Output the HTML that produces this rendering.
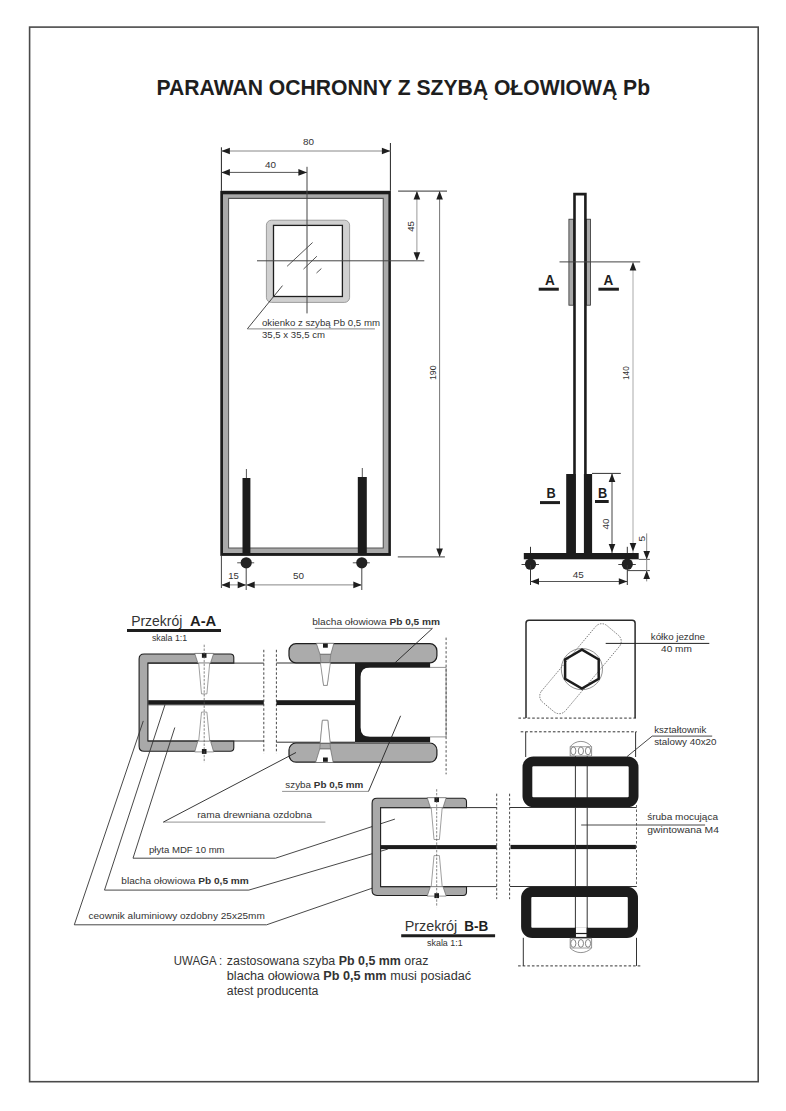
<!DOCTYPE html>
<html><head><meta charset="utf-8"><style>
html,body{margin:0;padding:0;background:#fff;}
svg{display:block;font-family:"Liberation Sans",sans-serif;}
</style></head><body>
<svg width="786" height="1111" viewBox="0 0 786 1111">
<rect width="786" height="1111" fill="#fff"/>
<rect x="29.60" y="27.10" width="728.60" height="1054.60" rx="0" fill="none" stroke="#4a4a4a" stroke-width="1.6"/>
<text x="156.50" y="95.20" font-size="22.5" font-weight="bold" fill="#1e1e1e" text-anchor="start" textLength="493.60" lengthAdjust="spacingAndGlyphs">PARAWAN OCHRONNY Z SZYBĄ OŁOWIOWĄ Pb</text>
<rect x="220.30" y="190.80" width="170.60" height="365.10" rx="0" fill="#1c1c1c" stroke="none" stroke-width="0"/>
<rect x="223.00" y="194.30" width="165.40" height="358.70" rx="0" fill="#a9a9a9" stroke="none" stroke-width="0"/>
<rect x="228.10" y="197.80" width="155.70" height="350.70" rx="0" fill="#555" stroke="none" stroke-width="0"/>
<rect x="229.10" y="199.00" width="153.60" height="348.50" rx="0" fill="#fff" stroke="none" stroke-width="0"/>
<rect x="266.40" y="220.20" width="83.20" height="82.20" rx="5" fill="#d0d0d0" stroke="#8a8a8a" stroke-width="0.8"/>
<rect x="273.50" y="225.40" width="68.90" height="71.10" rx="0" fill="#fff" stroke="#1e1e1e" stroke-width="1.3"/>
<line x1="287.10" y1="266.30" x2="312.60" y2="242.50" stroke="#444" stroke-width="0.9" stroke-linecap="butt"/>
<line x1="303.50" y1="269.10" x2="316.90" y2="256.20" stroke="#444" stroke-width="0.9" stroke-linecap="butt"/>
<line x1="316.50" y1="273.00" x2="321.40" y2="268.50" stroke="#444" stroke-width="0.9" stroke-linecap="butt"/>
<line x1="307.00" y1="166.80" x2="307.00" y2="313.40" stroke="#444" stroke-width="1" stroke-linecap="butt"/>
<line x1="257.00" y1="260.80" x2="424.30" y2="260.80" stroke="#444" stroke-width="1" stroke-linecap="butt"/>
<line x1="247.30" y1="328.90" x2="282.50" y2="285.60" stroke="#333" stroke-width="0.9" stroke-linecap="butt"/>
<line x1="247.30" y1="328.90" x2="374.90" y2="328.90" stroke="#777" stroke-width="0.9" stroke-linecap="butt"/>
<text x="262.00" y="325.70" font-size="9.4" font-weight="normal" fill="#333" text-anchor="start" textLength="118.00" lengthAdjust="spacingAndGlyphs">okienko z szybą Pb 0,5 mm</text>
<text x="262.00" y="337.60" font-size="9.4" font-weight="normal" fill="#333" text-anchor="start" textLength="63.00" lengthAdjust="spacingAndGlyphs">35,5 x 35,5 cm</text>
<line x1="221.40" y1="147.30" x2="221.40" y2="190.80" stroke="#222" stroke-width="1" stroke-linecap="butt"/>
<line x1="390.40" y1="143.00" x2="390.40" y2="190.80" stroke="#222" stroke-width="1" stroke-linecap="butt"/>
<line x1="221.40" y1="151.00" x2="390.40" y2="151.00" stroke="#888" stroke-width="1" stroke-linecap="butt"/>
<polygon points="221.40,151.00 229.90,147.70 229.90,154.30" fill="#1e1e1e" stroke="none" stroke-width="0"/>
<polygon points="390.40,151.00 381.90,147.70 381.90,154.30" fill="#1e1e1e" stroke="none" stroke-width="0"/>
<text x="302.90" y="145.40" font-size="9.6" font-weight="normal" fill="#333" text-anchor="start" textLength="11.00" lengthAdjust="spacingAndGlyphs">80</text>
<line x1="221.40" y1="172.40" x2="306.90" y2="172.40" stroke="#555" stroke-width="1" stroke-linecap="butt"/>
<polygon points="221.40,172.40 229.90,169.10 229.90,175.70" fill="#1e1e1e" stroke="none" stroke-width="0"/>
<polygon points="306.90,172.40 298.40,169.10 298.40,175.70" fill="#1e1e1e" stroke="none" stroke-width="0"/>
<text x="265.10" y="167.70" font-size="9.6" font-weight="normal" fill="#333" text-anchor="start" textLength="11.00" lengthAdjust="spacingAndGlyphs">40</text>
<line x1="398.10" y1="191.10" x2="447.00" y2="191.10" stroke="#333" stroke-width="1" stroke-linecap="butt"/>
<line x1="416.90" y1="191.10" x2="416.90" y2="260.80" stroke="#999" stroke-width="1" stroke-linecap="butt"/>
<polygon points="416.90,191.10 413.60,199.60 420.20,199.60" fill="#1e1e1e" stroke="none" stroke-width="0"/>
<polygon points="416.90,260.80 413.60,252.30 420.20,252.30" fill="#1e1e1e" stroke="none" stroke-width="0"/>
<text x="414.40" y="231.80" font-size="9.6" font-weight="normal" fill="#333" text-anchor="start" textLength="10.80" lengthAdjust="spacingAndGlyphs" transform="rotate(-90 414.40 231.80)">45</text>
<line x1="439.60" y1="191.10" x2="439.60" y2="556.90" stroke="#777" stroke-width="1" stroke-linecap="butt"/>
<polygon points="439.60,191.10 436.30,199.60 442.90,199.60" fill="#1e1e1e" stroke="none" stroke-width="0"/>
<polygon points="439.60,556.90 436.30,548.40 442.90,548.40" fill="#1e1e1e" stroke="none" stroke-width="0"/>
<line x1="397.80" y1="556.90" x2="444.90" y2="556.90" stroke="#666" stroke-width="1.2" stroke-linecap="butt"/>
<text x="435.80" y="380.10" font-size="9.6" font-weight="normal" fill="#333" text-anchor="start" textLength="14.80" lengthAdjust="spacingAndGlyphs" transform="rotate(-90 435.80 380.10)">190</text>
<line x1="246.40" y1="469.00" x2="246.40" y2="478.00" stroke="#555" stroke-width="1" stroke-linecap="butt"/>
<rect x="242.50" y="478.00" width="7.90" height="77.00" rx="0" fill="#1c1c1c" stroke="none" stroke-width="0"/>
<line x1="362.30" y1="468.00" x2="362.30" y2="477.00" stroke="#555" stroke-width="1" stroke-linecap="butt"/>
<rect x="357.80" y="477.00" width="9.00" height="78.00" rx="0" fill="#1c1c1c" stroke="none" stroke-width="0"/>
<line x1="237.20" y1="562.80" x2="254.20" y2="562.80" stroke="#555" stroke-width="1" stroke-linecap="butt"/>
<circle cx="246.20" cy="562.80" r="5.6" fill="#222" stroke="none" stroke-width="0"/>
<line x1="246.20" y1="568.00" x2="246.20" y2="590.00" stroke="#444" stroke-width="1" stroke-linecap="butt"/>
<line x1="352.80" y1="562.80" x2="369.80" y2="562.80" stroke="#555" stroke-width="1" stroke-linecap="butt"/>
<circle cx="361.80" cy="562.80" r="5.6" fill="#222" stroke="none" stroke-width="0"/>
<line x1="361.80" y1="568.00" x2="361.80" y2="590.00" stroke="#444" stroke-width="1" stroke-linecap="butt"/>
<line x1="221.40" y1="555.90" x2="221.40" y2="588.00" stroke="#444" stroke-width="1" stroke-linecap="butt"/>
<line x1="221.40" y1="584.90" x2="361.80" y2="584.90" stroke="#888" stroke-width="1" stroke-linecap="butt"/>
<polygon points="221.40,584.90 229.90,581.60 229.90,588.20" fill="#1e1e1e" stroke="none" stroke-width="0"/>
<polygon points="246.20,584.90 237.70,581.60 237.70,588.20" fill="#1e1e1e" stroke="none" stroke-width="0"/>
<polygon points="246.20,584.90 254.70,581.60 254.70,588.20" fill="#1e1e1e" stroke="none" stroke-width="0"/>
<polygon points="361.80,584.90 353.30,581.60 353.30,588.20" fill="#1e1e1e" stroke="none" stroke-width="0"/>
<text x="228.30" y="578.60" font-size="9.6" font-weight="normal" fill="#333" text-anchor="start" textLength="10.60" lengthAdjust="spacingAndGlyphs">15</text>
<text x="293.00" y="578.60" font-size="9.6" font-weight="normal" fill="#333" text-anchor="start" textLength="11.00" lengthAdjust="spacingAndGlyphs">50</text>
<rect x="568.90" y="219.20" width="4.50" height="86.00" rx="0" fill="#a9a9a9" stroke="#333" stroke-width="0.8"/>
<rect x="586.60" y="219.20" width="4.00" height="86.00" rx="0" fill="#a9a9a9" stroke="#333" stroke-width="0.8"/>
<polyline points="574.50,553.00 574.50,194.10 585.40,194.10 585.40,553.00" fill="none" stroke="#1c1c1c" stroke-width="2.6"/>
<rect x="566.20" y="474.00" width="9.50" height="79.00" rx="0" fill="#1c1c1c" stroke="none" stroke-width="0"/>
<rect x="583.90" y="474.00" width="8.20" height="79.00" rx="0" fill="#1c1c1c" stroke="none" stroke-width="0"/>
<rect x="523.80" y="553.00" width="114.90" height="6.30" rx="0" fill="#1c1c1c" stroke="none" stroke-width="0"/>
<line x1="530.50" y1="546.80" x2="530.50" y2="553.00" stroke="#333" stroke-width="1" stroke-linecap="butt"/>
<line x1="521.50" y1="564.50" x2="539.00" y2="564.50" stroke="#444" stroke-width="1" stroke-linecap="butt"/>
<circle cx="530.50" cy="564.20" r="5.6" fill="#222" stroke="none" stroke-width="0"/>
<line x1="530.50" y1="565.00" x2="530.50" y2="585.00" stroke="#333" stroke-width="1" stroke-linecap="butt"/>
<line x1="627.30" y1="546.80" x2="627.30" y2="553.00" stroke="#333" stroke-width="1" stroke-linecap="butt"/>
<line x1="618.30" y1="564.50" x2="635.80" y2="564.50" stroke="#444" stroke-width="1" stroke-linecap="butt"/>
<circle cx="627.30" cy="564.20" r="5.6" fill="#222" stroke="none" stroke-width="0"/>
<line x1="627.30" y1="565.00" x2="627.30" y2="585.00" stroke="#333" stroke-width="1" stroke-linecap="butt"/>
<line x1="559.50" y1="261.90" x2="640.20" y2="261.90" stroke="#444" stroke-width="1" stroke-linecap="butt"/>
<text x="545.00" y="284.70" font-size="15" font-weight="bold" fill="#1e1e1e" text-anchor="start" textLength="9.80" lengthAdjust="spacingAndGlyphs">A</text>
<line x1="538.70" y1="289.20" x2="558.80" y2="289.20" stroke="#1e1e1e" stroke-width="3" stroke-linecap="butt"/>
<text x="603.60" y="284.70" font-size="15" font-weight="bold" fill="#1e1e1e" text-anchor="start" textLength="9.80" lengthAdjust="spacingAndGlyphs">A</text>
<line x1="598.40" y1="289.20" x2="618.90" y2="289.20" stroke="#1e1e1e" stroke-width="3" stroke-linecap="butt"/>
<text x="546.40" y="498.20" font-size="15" font-weight="bold" fill="#1e1e1e" text-anchor="start" textLength="9.20" lengthAdjust="spacingAndGlyphs">B</text>
<line x1="540.00" y1="502.60" x2="560.00" y2="502.60" stroke="#1e1e1e" stroke-width="3" stroke-linecap="butt"/>
<text x="598.10" y="498.20" font-size="15" font-weight="bold" fill="#1e1e1e" text-anchor="start" textLength="9.20" lengthAdjust="spacingAndGlyphs">B</text>
<line x1="595.00" y1="501.50" x2="608.70" y2="501.50" stroke="#1e1e1e" stroke-width="3" stroke-linecap="butt"/>
<line x1="633.00" y1="261.90" x2="633.00" y2="553.00" stroke="#aaa" stroke-width="1" stroke-linecap="butt"/>
<polygon points="633.00,261.90 629.70,270.40 636.30,270.40" fill="#1e1e1e" stroke="none" stroke-width="0"/>
<polygon points="633.00,551.50 629.70,543.00 636.30,543.00" fill="#1e1e1e" stroke="none" stroke-width="0"/>
<text x="628.80" y="380.00" font-size="9.6" font-weight="normal" fill="#333" text-anchor="start" textLength="13.70" lengthAdjust="spacingAndGlyphs" transform="rotate(-90 628.80 380.00)">140</text>
<line x1="592.00" y1="473.40" x2="620.80" y2="473.40" stroke="#333" stroke-width="1" stroke-linecap="butt"/>
<line x1="612.00" y1="473.40" x2="612.00" y2="553.00" stroke="#444" stroke-width="1" stroke-linecap="butt"/>
<polygon points="612.00,473.40 608.70,481.90 615.30,481.90" fill="#1e1e1e" stroke="none" stroke-width="0"/>
<polygon points="612.00,552.50 608.70,544.00 615.30,544.00" fill="#1e1e1e" stroke="none" stroke-width="0"/>
<text x="608.80" y="529.50" font-size="9.6" font-weight="normal" fill="#333" text-anchor="start" textLength="11.00" lengthAdjust="spacingAndGlyphs" transform="rotate(-90 608.80 529.50)">40</text>
<line x1="638.70" y1="559.40" x2="649.90" y2="559.40" stroke="#555" stroke-width="1" stroke-linecap="butt"/>
<line x1="627.20" y1="570.60" x2="649.90" y2="570.60" stroke="#444" stroke-width="1" stroke-linecap="butt"/>
<line x1="646.70" y1="533.40" x2="646.70" y2="581.40" stroke="#888" stroke-width="1" stroke-linecap="butt"/>
<polygon points="646.70,559.40 643.40,550.90 650.00,550.90" fill="#1e1e1e" stroke="none" stroke-width="0"/>
<polygon points="646.70,570.60 643.40,579.10 650.00,579.10" fill="#1e1e1e" stroke="none" stroke-width="0"/>
<text x="645.40" y="541.50" font-size="9.6" font-weight="normal" fill="#333" text-anchor="start" textLength="5.60" lengthAdjust="spacingAndGlyphs" transform="rotate(-90 645.40 541.50)">5</text>
<line x1="530.50" y1="581.50" x2="627.30" y2="581.50" stroke="#555" stroke-width="1" stroke-linecap="butt"/>
<polygon points="530.50,581.50 539.00,578.20 539.00,584.80" fill="#1e1e1e" stroke="none" stroke-width="0"/>
<polygon points="627.30,581.50 618.80,578.20 618.80,584.80" fill="#1e1e1e" stroke="none" stroke-width="0"/>
<text x="572.70" y="577.80" font-size="9.6" font-weight="normal" fill="#333" text-anchor="start" textLength="11.00" lengthAdjust="spacingAndGlyphs">45</text>
<path d="M233.8,663.1 L147.9,663.1 L147.9,741 L233.8,741 L233.8,747.8 Q233.8,751.3 230.3,751.3 L144.1,751.3 Q139.1,751.3 139.1,746.3 L139.1,659 Q139.1,654 144.1,654 L230.3,654 Q233.8,654 233.8,657.5 Z" fill="#a9a9a9" stroke="#1e1e1e" stroke-width="1.1"/>
<line x1="147.90" y1="663.10" x2="263.80" y2="663.10" stroke="#333" stroke-width="1" stroke-linecap="butt"/>
<line x1="147.90" y1="741.00" x2="263.80" y2="741.00" stroke="#333" stroke-width="1" stroke-linecap="butt"/>
<rect x="148.20" y="700.20" width="115.60" height="4.50" rx="0" fill="#1c1c1c" stroke="none" stroke-width="0"/>
<line x1="148.20" y1="704.90" x2="263.80" y2="704.90" stroke="#444" stroke-width="0.8" stroke-linecap="butt"/>
<polygon points="194.70,653.40 213.70,653.40 210.50,663.10 197.90,663.10" fill="#fff" stroke="#666" stroke-width="0.7"/>
<polygon points="198.70,663.10 209.70,663.10 206.90,693.90 201.50,693.90" fill="#fff" stroke="#777" stroke-width="0.7"/>
<rect x="201.90" y="653.20" width="4.60" height="4.60" rx="0" fill="#1c1c1c" stroke="none" stroke-width="0"/>
<polygon points="194.70,751.90 213.70,751.90 210.50,741.00 197.90,741.00" fill="#fff" stroke="#666" stroke-width="0.7"/>
<polygon points="198.70,741.00 209.70,741.00 206.90,712.10 201.50,712.10" fill="#fff" stroke="#777" stroke-width="0.7"/>
<rect x="201.90" y="749.00" width="4.60" height="4.90" rx="0" fill="#1c1c1c" stroke="none" stroke-width="0"/>
<line x1="204.20" y1="644.70" x2="204.20" y2="762.60" stroke="#555" stroke-width="0.7" stroke-linecap="butt" stroke-dasharray="2.4,1.4"/>
<line x1="263.80" y1="649.80" x2="263.80" y2="753.40" stroke="#333" stroke-width="0.9" stroke-linecap="butt" stroke-dasharray="2.5,2"/>
<line x1="276.40" y1="649.80" x2="276.40" y2="753.40" stroke="#333" stroke-width="0.9" stroke-linecap="butt" stroke-dasharray="2.5,2"/>
<line x1="276.40" y1="663.00" x2="355.00" y2="663.00" stroke="#333" stroke-width="1" stroke-linecap="butt"/>
<line x1="276.40" y1="742.20" x2="355.00" y2="742.20" stroke="#333" stroke-width="1" stroke-linecap="butt"/>
<rect x="276.40" y="700.20" width="78.60" height="4.90" rx="0" fill="#1c1c1c" stroke="none" stroke-width="0"/>
<rect x="289.00" y="643.70" width="147.90" height="19.10" rx="7" fill="#ababab" stroke="#1e1e1e" stroke-width="1.2"/>
<rect x="289.00" y="743.00" width="147.90" height="19.10" rx="7" fill="#ababab" stroke="#1e1e1e" stroke-width="1.2"/>
<polygon points="316.30,643.30 333.90,643.30 330.80,654.30 320.00,654.30" fill="#fff" stroke="#666" stroke-width="0.7"/>
<polygon points="320.00,654.30 330.80,654.30 327.20,685.40 323.60,685.40" fill="none" stroke="#777" stroke-width="0.7"/>
<polygon points="320.40,662.80 330.40,662.80 327.20,685.40 323.60,685.40" fill="#fff" stroke="#777" stroke-width="0.7"/>
<rect x="323.00" y="643.50" width="4.80" height="4.20" rx="0" fill="#1c1c1c" stroke="none" stroke-width="0"/>
<polygon points="315.60,762.50 333.20,762.50 330.50,748.80 319.80,748.80" fill="#fff" stroke="#666" stroke-width="0.7"/>
<polygon points="319.80,748.80 330.50,748.80 327.80,720.30 322.40,720.30" fill="none" stroke="#777" stroke-width="0.7"/>
<polygon points="320.20,743.00 330.20,743.00 327.80,720.30 322.40,720.30" fill="#fff" stroke="#777" stroke-width="0.7"/>
<rect x="323.00" y="757.50" width="4.80" height="4.30" rx="0" fill="#1c1c1c" stroke="none" stroke-width="0"/>
<line x1="360.60" y1="667.40" x2="446.10" y2="667.40" stroke="#888" stroke-width="0.9" stroke-linecap="butt"/>
<line x1="360.60" y1="736.90" x2="446.10" y2="736.90" stroke="#888" stroke-width="0.9" stroke-linecap="butt"/>
<line x1="446.10" y1="667.40" x2="446.10" y2="736.90" stroke="#888" stroke-width="0.9" stroke-linecap="butt"/>
<path d="M355,662.8 L430.1,662.8 L430.1,667.4 L370,667.4 Q360.6,667.4 360.6,676.8 L360.6,727.5 Q360.6,736.9 370,736.9 L430.1,736.9 L430.1,742.2 L355,742.2 Z" fill="#1c1c1c"/>
<line x1="446.10" y1="637.60" x2="446.10" y2="774.30" stroke="#444" stroke-width="0.9" stroke-linecap="butt" stroke-dasharray="2.5,2"/>
<text x="131.20" y="626.00" font-size="15" font-weight="normal" fill="#333" text-anchor="start" textLength="51.10" lengthAdjust="spacingAndGlyphs">Przekrój</text>
<text x="190.00" y="626.00" font-size="15" font-weight="bold" fill="#1e1e1e" text-anchor="start" textLength="26.30" lengthAdjust="spacingAndGlyphs">A-A</text>
<line x1="127.00" y1="630.50" x2="221.00" y2="630.50" stroke="#1e1e1e" stroke-width="2.8" stroke-linecap="butt"/>
<text x="151.90" y="641.10" font-size="9.4" font-weight="normal" fill="#333" text-anchor="start" textLength="35.30" lengthAdjust="spacingAndGlyphs">skala 1:1</text>
<text x="312.20" y="625.40" font-size="9.4" fill="#333" xml:space="preserve" textLength="127.90" lengthAdjust="spacingAndGlyphs"><tspan font-weight="normal">blacha ołowiowa </tspan><tspan font-weight="bold">Pb 0,5 mm</tspan></text>
<line x1="314.80" y1="628.40" x2="432.40" y2="628.40" stroke="#666" stroke-width="0.9" stroke-linecap="butt"/>
<line x1="432.40" y1="628.40" x2="395.00" y2="662.80" stroke="#222" stroke-width="0.9" stroke-linecap="butt"/>
<text x="285.30" y="787.60" font-size="9.4" fill="#333" xml:space="preserve" textLength="77.90" lengthAdjust="spacingAndGlyphs"><tspan font-weight="normal">szyba </tspan><tspan font-weight="bold">Pb 0,5 mm</tspan></text>
<line x1="282.10" y1="791.40" x2="368.50" y2="791.40" stroke="#888" stroke-width="0.9" stroke-linecap="butt"/>
<line x1="368.50" y1="791.40" x2="400.60" y2="715.80" stroke="#222" stroke-width="0.9" stroke-linecap="butt"/>
<text x="197.20" y="817.70" font-size="9.4" font-weight="normal" fill="#333" text-anchor="start" textLength="114.70" lengthAdjust="spacingAndGlyphs">rama drewniana ozdobna</text>
<line x1="163.30" y1="822.10" x2="325.40" y2="822.10" stroke="#888" stroke-width="0.9" stroke-linecap="butt"/>
<line x1="163.30" y1="822.10" x2="296.00" y2="752.50" stroke="#222" stroke-width="0.9" stroke-linecap="butt"/>
<text x="149.00" y="852.50" font-size="9.4" font-weight="normal" fill="#333" text-anchor="start" textLength="75.60" lengthAdjust="spacingAndGlyphs">płyta MDF 10 mm</text>
<polyline points="174.80,727.50 133.00,858.20 275.50,858.20 394.90,819.10" fill="none" stroke="#333" stroke-width="0.9"/>
<text x="121.30" y="883.50" font-size="9.4" fill="#333" xml:space="preserve" textLength="127.50" lengthAdjust="spacingAndGlyphs"><tspan font-weight="normal">blacha ołowiowa </tspan><tspan font-weight="bold">Pb 0,5 mm</tspan></text>
<polyline points="165.00,704.70 104.50,890.10 248.80,890.10 387.80,849.10" fill="none" stroke="#333" stroke-width="0.9"/>
<text x="88.50" y="919.20" font-size="9.4" font-weight="normal" fill="#333" text-anchor="start" textLength="176.30" lengthAdjust="spacingAndGlyphs">ceownik aluminiowy ozdobny 25x25mm</text>
<polyline points="143.30,720.90 74.30,924.80 266.60,924.80 376.20,886.80" fill="none" stroke="#333" stroke-width="0.9"/>
<path d="M466.5,807.6 L380.6,807.6 L380.6,886.6 L466.5,886.6 L466.5,892.1 Q466.5,895.5 463.1,895.5 L377,895.5 Q372.1,895.5 372.1,890.6 L372.1,803.2 Q372.1,798.3 377,798.3 L463.1,798.3 Q466.5,798.3 466.5,801.7 Z" fill="#a9a9a9" stroke="#1e1e1e" stroke-width="1.1"/>
<line x1="380.60" y1="807.60" x2="496.70" y2="807.60" stroke="#333" stroke-width="1" stroke-linecap="butt"/>
<line x1="380.60" y1="886.60" x2="496.70" y2="886.60" stroke="#333" stroke-width="1" stroke-linecap="butt"/>
<rect x="380.60" y="845.10" width="116.10" height="4.00" rx="0" fill="#1c1c1c" stroke="none" stroke-width="0"/>
<polygon points="427.20,797.70 446.20,797.70 443.00,807.60 430.40,807.60" fill="#fff" stroke="#666" stroke-width="0.7"/>
<polygon points="431.20,807.60 442.20,807.60 439.40,839.50 434.00,839.50" fill="#fff" stroke="#777" stroke-width="0.7"/>
<rect x="434.40" y="797.50" width="4.60" height="4.60" rx="0" fill="#1c1c1c" stroke="none" stroke-width="0"/>
<polygon points="427.20,896.10 446.20,896.10 443.00,886.60 430.40,886.60" fill="#fff" stroke="#666" stroke-width="0.7"/>
<polygon points="431.20,886.60 442.20,886.60 439.40,855.60 434.00,855.60" fill="#fff" stroke="#777" stroke-width="0.7"/>
<rect x="434.40" y="893.20" width="4.60" height="4.90" rx="0" fill="#1c1c1c" stroke="none" stroke-width="0"/>
<line x1="436.70" y1="789.20" x2="436.70" y2="907.10" stroke="#555" stroke-width="0.7" stroke-linecap="butt" stroke-dasharray="2.4,1.4"/>
<line x1="496.70" y1="793.70" x2="496.70" y2="899.10" stroke="#333" stroke-width="0.9" stroke-linecap="butt" stroke-dasharray="2.5,2"/>
<line x1="509.60" y1="793.70" x2="509.60" y2="899.10" stroke="#333" stroke-width="0.9" stroke-linecap="butt" stroke-dasharray="2.5,2"/>
<line x1="510.00" y1="807.50" x2="636.50" y2="807.50" stroke="#333" stroke-width="1" stroke-linecap="butt"/>
<line x1="510.00" y1="886.50" x2="636.50" y2="886.50" stroke="#333" stroke-width="1" stroke-linecap="butt"/>
<rect x="510.50" y="844.90" width="125.40" height="4.20" rx="0" fill="#1c1c1c" stroke="none" stroke-width="0"/>
<line x1="636.50" y1="805.00" x2="636.50" y2="887.00" stroke="#555" stroke-width="0.9" stroke-linecap="butt" stroke-dasharray="2.5,2"/>
<line x1="575.40" y1="746.00" x2="575.40" y2="938.00" stroke="#333" stroke-width="1" stroke-linecap="butt"/>
<line x1="587.20" y1="746.00" x2="587.20" y2="938.00" stroke="#333" stroke-width="1" stroke-linecap="butt"/>
<rect x="527.40" y="761.30" width="106.20" height="40.90" rx="6" fill="none" stroke="#1c1c1c" stroke-width="9.8"/>
<rect x="526.20" y="891.90" width="106.70" height="40.90" rx="6" fill="none" stroke="#1c1c1c" stroke-width="10.2"/>
<rect x="575.90" y="927.50" width="10.80" height="9.70" rx="0" fill="#fff" stroke="none" stroke-width="0"/>
<line x1="575.40" y1="927.50" x2="575.40" y2="938.00" stroke="#222" stroke-width="1" stroke-linecap="butt"/>
<line x1="587.20" y1="927.50" x2="587.20" y2="938.00" stroke="#222" stroke-width="1" stroke-linecap="butt"/>
<line x1="575.40" y1="933.50" x2="587.20" y2="933.50" stroke="#1c1c1c" stroke-width="1.2" stroke-linecap="butt"/>
<line x1="575.40" y1="937.50" x2="587.20" y2="937.50" stroke="#1c1c1c" stroke-width="1.2" stroke-linecap="butt"/>
<line x1="520.70" y1="731.80" x2="636.80" y2="731.80" stroke="#333" stroke-width="1" stroke-linecap="butt" stroke-dasharray="2.6,2"/>
<line x1="525.70" y1="731.80" x2="525.70" y2="757.00" stroke="#333" stroke-width="1" stroke-linecap="butt"/>
<line x1="635.60" y1="731.80" x2="635.60" y2="757.00" stroke="#333" stroke-width="1" stroke-linecap="butt"/>
<line x1="518.10" y1="965.90" x2="641.20" y2="965.90" stroke="#333" stroke-width="1" stroke-linecap="butt" stroke-dasharray="2.6,2"/>
<line x1="523.30" y1="937.80" x2="523.30" y2="965.90" stroke="#333" stroke-width="1" stroke-linecap="butt"/>
<line x1="636.50" y1="937.80" x2="636.50" y2="965.90" stroke="#333" stroke-width="1" stroke-linecap="butt"/>
<path d="M570.2,756 L570.2,746.7 A13.45,13.45 0 0 1 591.6,746.7 L591.6,756 Z" fill="#fff" stroke="#777" stroke-width="0.8"/>
<line x1="570.20" y1="746.70" x2="591.60" y2="746.70" stroke="#888" stroke-width="0.8" stroke-linecap="butt"/>
<ellipse cx="573.3" cy="750.9" rx="2.6" ry="3.9" fill="#fff" stroke="#666" stroke-width="0.8"/>
<ellipse cx="580.9" cy="750.9" rx="2.6" ry="3.9" fill="#fff" stroke="#666" stroke-width="0.8"/>
<ellipse cx="588.0" cy="750.9" rx="2.6" ry="3.9" fill="#fff" stroke="#666" stroke-width="0.8"/>
<path d="M570.2,938.3 L570.2,948.0 A14.74,14.74 0 0 0 591.6,948.0 L591.6,938.3 Z" fill="#fff" stroke="#777" stroke-width="0.8"/>
<line x1="570.20" y1="948.00" x2="591.60" y2="948.00" stroke="#888" stroke-width="0.8" stroke-linecap="butt"/>
<ellipse cx="573.3" cy="943.4" rx="2.6" ry="3.9" fill="#fff" stroke="#666" stroke-width="0.8"/>
<ellipse cx="580.9" cy="943.4" rx="2.6" ry="3.9" fill="#fff" stroke="#666" stroke-width="0.8"/>
<ellipse cx="588.0" cy="943.4" rx="2.6" ry="3.9" fill="#fff" stroke="#666" stroke-width="0.8"/>
<text x="404.70" y="930.70" font-size="15" font-weight="normal" fill="#333" text-anchor="start" textLength="52.60" lengthAdjust="spacingAndGlyphs">Przekrój</text>
<text x="464.20" y="930.70" font-size="15" font-weight="bold" fill="#1e1e1e" text-anchor="start" textLength="24.00" lengthAdjust="spacingAndGlyphs">B-B</text>
<line x1="401.20" y1="935.70" x2="495.10" y2="935.70" stroke="#1e1e1e" stroke-width="3" stroke-linecap="butt"/>
<text x="427.10" y="945.80" font-size="9.6" font-weight="normal" fill="#333" text-anchor="start" textLength="35.50" lengthAdjust="spacingAndGlyphs">skala 1:1</text>
<text x="654.20" y="733.20" font-size="9.4" font-weight="normal" fill="#333" text-anchor="start" textLength="52.10" lengthAdjust="spacingAndGlyphs">kształtownik</text>
<text x="654.20" y="744.90" font-size="9.4" font-weight="normal" fill="#333" text-anchor="start" textLength="62.40" lengthAdjust="spacingAndGlyphs">stalowy 40x20</text>
<polyline points="627.00,756.60 652.20,736.10 712.20,736.10" fill="none" stroke="#333" stroke-width="0.9"/>
<text x="647.20" y="819.50" font-size="9.4" font-weight="normal" fill="#333" text-anchor="start" textLength="70.80" lengthAdjust="spacingAndGlyphs">śruba mocująca</text>
<text x="647.20" y="832.70" font-size="9.4" font-weight="normal" fill="#333" text-anchor="start" textLength="71.70" lengthAdjust="spacingAndGlyphs">gwintowana M4</text>
<line x1="581.20" y1="825.00" x2="705.10" y2="825.00" stroke="#333" stroke-width="0.9" stroke-linecap="butt"/>
<path d="M526,718.1 L526,623.2 Q526,620.2 529,620.2 L632.1,620.2 Q635.1,620.2 635.1,623.2 L635.1,718.1" fill="none" stroke="#2a2a2a" stroke-width="1.5"/>
<line x1="518.40" y1="718.10" x2="636.00" y2="718.10" stroke="#333" stroke-width="1" stroke-linecap="butt" stroke-dasharray="2.6,2"/>
<rect x="530.5" y="653.2" width="100" height="31" rx="8" fill="none" stroke="#666" stroke-width="0.8" stroke-dasharray="1.5,1.2" transform="rotate(-50 580.5 668.7)"/>
<circle cx="581.90" cy="669.10" r="20.6" fill="none" stroke="#777" stroke-width="0.8"/>
<polygon points="581.90,649.70 598.70,659.40 598.70,678.80 581.90,688.50 565.10,678.80 565.10,659.40" fill="none" stroke="#1c1c1c" stroke-width="2.5"/>
<text x="650.80" y="639.80" font-size="9.4" font-weight="normal" fill="#333" text-anchor="start" textLength="54.20" lengthAdjust="spacingAndGlyphs">kółko jezdne</text>
<text x="661.10" y="651.80" font-size="9.4" font-weight="normal" fill="#333" text-anchor="start" textLength="30.80" lengthAdjust="spacingAndGlyphs">40 mm</text>
<line x1="605.70" y1="643.40" x2="709.30" y2="643.40" stroke="#222" stroke-width="1" stroke-linecap="butt"/>
<text x="173.80" y="964.70" font-size="12" font-weight="normal" fill="#333" text-anchor="start" textLength="48.50" lengthAdjust="spacingAndGlyphs">UWAGA :</text>
<text x="226.80" y="964.70" font-size="12" fill="#333" xml:space="preserve" textLength="201.70" lengthAdjust="spacingAndGlyphs"><tspan font-weight="normal">zastosowana szyba </tspan><tspan font-weight="bold">Pb 0,5 mm</tspan><tspan font-weight="normal"> oraz</tspan></text>
<text x="226.80" y="980.10" font-size="12" fill="#333" xml:space="preserve" textLength="244.30" lengthAdjust="spacingAndGlyphs"><tspan font-weight="normal">blacha ołowiowa </tspan><tspan font-weight="bold">Pb 0,5 mm</tspan><tspan font-weight="normal"> musi posiadać</tspan></text>
<text x="226.80" y="995.20" font-size="12" font-weight="normal" fill="#333" text-anchor="start" textLength="91.60" lengthAdjust="spacingAndGlyphs">atest producenta</text>
</svg>
</body></html>
